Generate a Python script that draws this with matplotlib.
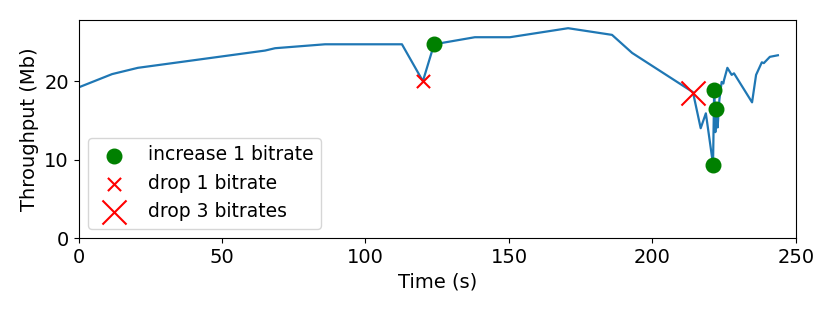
import numpy as np
import matplotlib
matplotlib.use("Agg")
import matplotlib.pyplot as plt

# throughput trace
time_s = [0, 11.7, 20.7, 65.0, 68.5, 85.9, 97.4, 112.7, 120.0, 123.9, 138.1, 150.3,
          170.6, 185.9, 192.9, 214.1, 216.8, 218.6, 221.1, 221.5, 221.9, 222.4, 222.7,
          223.3, 224.1, 224.7, 224.9, 226.1, 227.6, 228.4, 234.7, 236.1, 238.1, 238.8,
          240.9, 243.7]
throughput = [19.2, 20.9, 21.7, 23.9, 24.2, 24.7, 24.7, 24.7, 20.0, 24.7, 25.6, 25.6,
              26.75, 25.9, 23.6, 18.6, 14.0, 15.9, 9.4, 18.9, 13.5, 16.7, 14.1,
              17.6, 19.9, 19.7, 20.1, 21.7, 20.8, 21.0, 17.3, 20.8, 22.4, 22.3,
              23.1, 23.3]

# bitrate switch events
inc1_t = [123.9, 221.5, 222.0, 221.1]
inc1_y = [24.7, 18.9, 16.5, 9.3]
drop1_t = [120.0]
drop1_y = [20.0]
drop3_t = [214.1]
drop3_y = [18.5]

plt.rcParams["font.size"] = 14

fig, ax = plt.subplots(figsize=(8.3, 3.12), dpi=100)
fig.subplots_adjust(left=0.0946, right=0.959, top=0.936, bottom=0.237)

ax.plot(time_s, throughput, color="tab:blue", linewidth=1.6)
ax.scatter(inc1_t, inc1_y, s=110, color="green", zorder=3, label="increase 1 bitrate")
ax.scatter(drop1_t, drop1_y, s=90, color="red", marker="x", zorder=3, label="drop 1 bitrate")
ax.scatter(drop3_t, drop3_y, s=300, color="red", marker="x", zorder=3, label="drop 3 bitrates")

ax.set(xlim=(0, 250), ylim=(0, 27.8), xlabel="Time (s)", ylabel="Throughput (Mb)")
ax.set_yticks([0, 10, 20])
ax.legend(loc="lower left", scatterpoints=1, fontsize=13.5)

fig.savefig("out.png", dpi=100)
